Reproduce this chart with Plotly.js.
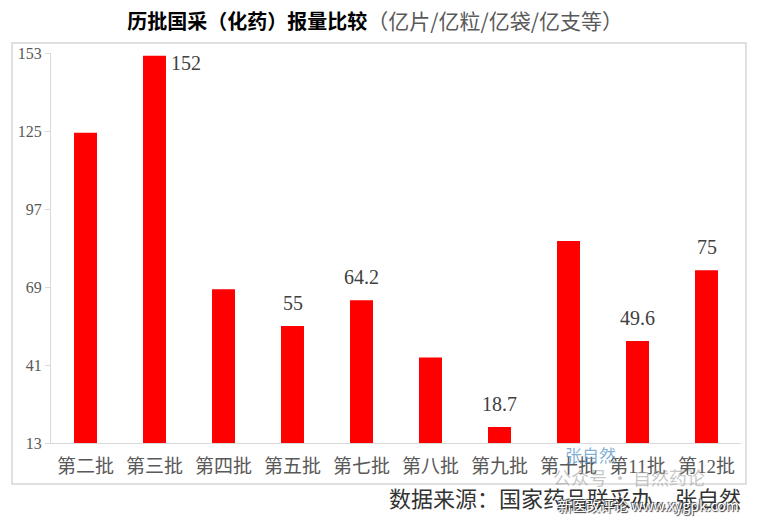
<!DOCTYPE html>
<html>
<head>
<meta charset="utf-8">
<script src="https://cdn.plot.ly/plotly-3.0.1.min.js"></script>
<style>html,body{margin:0;padding:0;background:#fff;}#chart{width:758px;height:517px;}</style>
</head>
<body>
<div id="chart"></div>
<script>
// Data
const categories = ['第二批','第三批','第四批','第五批','第七批','第八批','第九批','第十批','第11批','第12批'];
const volumes = [124.4, 152, 68.2, 55, 64.2, 43.7, 18.7, 85.5, 49.6, 75];
const shownLabels = [null, '152', null, '55', '64.2', null, '18.7', null, '49.6', '75'];
const yTicks = [13, 41, 69, 97, 125, 153];

const serif = 'Liberation Serif, Noto Sans CJK SC, serif';
const cjk = 'Noto Sans CJK SC, sans-serif';

const trace = {
  type: 'bar',
  x: categories,
  y: volumes,
  marker: {color: '#ff0000'},
  hoverinfo: 'x+y'
};

const annotations = [];
categories.forEach((c, i) => {
  const t = shownLabels[i];
  if (!t) return;
  const top = volumes[i] >= yTicks[yTicks.length - 1] - 2;
  annotations.push({
    x: c, y: volumes[i], xref: 'x', yref: 'y',
    text: t, showarrow: false,
    xanchor: top ? 'left' : 'center',
    yanchor: 'middle',
    xshift: top ? 14 : 0,
    yshift: top ? -7 : 23,
    font: {family: serif, size: 20, color: '#404040'}
  });
});

annotations.push({
  xref: 'paper', yref: 'paper', x: 1.003, y: -0.139,
  xanchor: 'right', yanchor: 'middle',
  text: '数据来源：国家药品联采办，张自然', showarrow: false,
  font: {family: cjk, size: 22, color: '#333333'}
});
// watermarks
annotations.push({
  xref: 'paper', yref: 'paper', x: 0.782, y: -0.03,
  xanchor: 'center', yanchor: 'middle',
  text: '张自然', showarrow: false,
  font: {family: cjk, size: 17, color: 'rgba(90,150,200,0.75)'}
});
annotations.push({
  xref: 'paper', yref: 'paper', x: 0.95, y: -0.088,
  xanchor: 'right', yanchor: 'middle',
  text: '公众号 · 自然药论', showarrow: false,
  font: {family: cjk, size: 18, color: 'rgba(160,160,160,0.6)'}
});
annotations.push({
  xref: 'paper', yref: 'paper', x: 1.0, y: -0.16,
  xanchor: 'right', yanchor: 'middle',
  text: '新医改评论 www.xygpk.com', showarrow: false,
  font: {family: cjk, size: 14, color: '#ffffff', shadow: '1px 1px 1px #333, -1px -1px 1px #333'}
});

const layout = {
  width: 758, height: 517,
  margin: {l: 51, r: 17, t: 53, b: 74, pad: 0},
  paper_bgcolor: '#ffffff', plot_bgcolor: '#ffffff',
  showlegend: false,
  bargap: 0.667,
  title: {
    text: '<b>历批国采（化药）报量比较</b><span style="color:#595959;font-size:21px">（亿片/亿粒/亿袋/亿支等）</span>',
    x: 0.495, xref: 'container', y: 0.957, yref: 'container', xanchor: 'center', yanchor: 'middle',
    font: {family: cjk, size: 20, color: '#000000'}
  },
  xaxis: {
    type: 'category',
    showline: true, linecolor: '#d9d9d9', linewidth: 1,
    ticks: '', showgrid: false, zeroline: false,
    ticklabelstandoff: 6,
    tickfont: {family: serif, size: 19, color: '#595959'},
    fixedrange: true
  },
  yaxis: {
    range: [13, 153],
    tickvals: yTicks,
    ticktext: yTicks.map(String),
    showline: true, linecolor: '#d9d9d9', linewidth: 1,
    ticks: 'outside', ticklen: 5, tickcolor: '#d9d9d9',
    showgrid: false, zeroline: false,
    tickfont: {family: serif, size: 16, color: '#595959'},
    fixedrange: true
  },
  annotations: annotations,
  shapes: [{
    type: 'rect', xref: 'paper', yref: 'paper',
    x0: -0.0565, x1: 1.0072, y0: -0.105, y1: 1.0256,
    line: {color: '#d6d6d6', width: 1.5}, fillcolor: 'rgba(0,0,0,0)', layer: 'below'
  }]
};

Plotly.newPlot('chart', [trace], layout, {displayModeBar: false, staticPlot: true});
</script>
</body>
</html>
